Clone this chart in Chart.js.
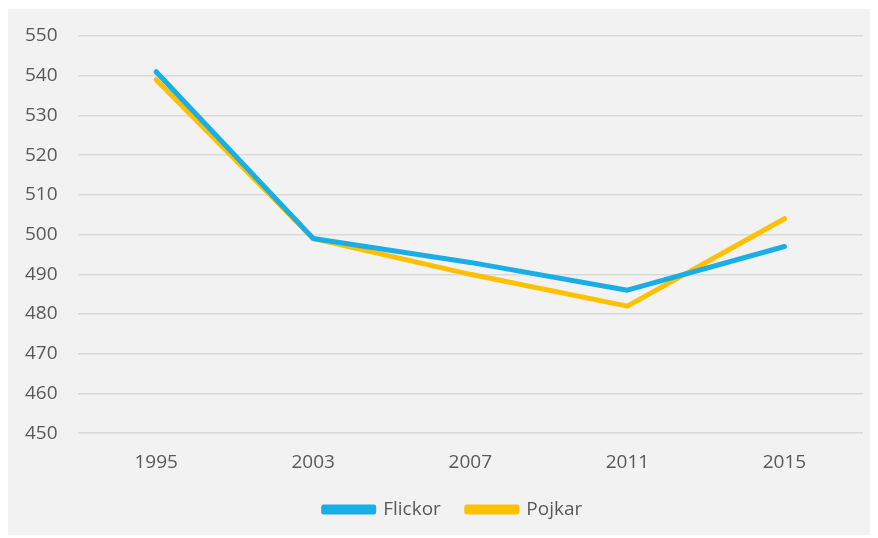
<!DOCTYPE html>
<html>
<head>
<meta charset="utf-8">
<script src="https://cdn.jsdelivr.net/npm/chart.js@4"></script>
<style>
  html, body { margin: 0; padding: 0; background: #ffffff; }
  #panel { position: absolute; left: 8px; top: 9px; width: 862px; height: 526px; background: #f2f2f2; }
  canvas { display: block; }
</style>
</head>
<body>
<div id="panel"><canvas id="chart" width="862" height="526"></canvas></div>
<script>
// data
const years = ['1995', '2003', '2007', '2011', '2015'];
const flickor = [541, 499, 493, 486, 497];
const pojkar = [539, 499, 490, 482, 504];
const yMin = 450, yMax = 550, yStep = 10;

Chart.defaults.color = '#595959';
Chart.defaults.font.family = "'Open Sans', 'Liberation Sans', sans-serif";
Chart.defaults.font.size = 19;

const line = (label, data, color) => ({
    label, data,
    borderColor: color, backgroundColor: color,
    borderWidth: 5, pointRadius: 0, tension: 0,
    borderCapStyle: 'round', borderJoinStyle: 'round'
});

// legend sits a bit right of centre in the original
const legendShift = {
    id: 'legendShift',
    afterLayout: (chart) => { chart.legend.left += 13; chart.legend.right += 13; }
};

new Chart(document.getElementById('chart'), {
    type: 'line',
    data: {
        labels: years,
        datasets: [
            line('Flickor', flickor, '#1aaee6'),
            line('Pojkar', pojkar, '#ffc000')
        ]
    },
    options: {
        responsive: false,
        animation: false,
        layout: { padding: { left: 9, right: 7, top: 27, bottom: 6 } },
        scales: {
            x: {
                offset: true,
                grid: { display: false, drawTicks: false },
                border: { display: false },
                ticks: { padding: 18 },
                afterFit: (s) => { s.height -= 18; }
            },
            y: {
                min: yMin, max: yMax,
                ticks: { stepSize: yStep, padding: 8 },
                grid: { color: '#d9d9d9', lineWidth: 1.5, tickLength: 12, tickColor: 'rgba(0,0,0,0)' },
                border: { display: false }
            }
        },
        plugins: {
            legend: {
                position: 'bottom',
                labels: { boxWidth: 50, boxHeight: 5, padding: 26 }
            },
            tooltip: { enabled: false }
        }
    },
    plugins: [legendShift]
});
</script>
</body>
</html>
